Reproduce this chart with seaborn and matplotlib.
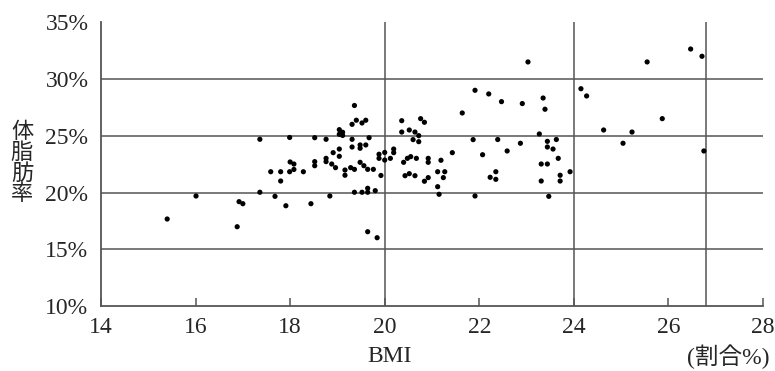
import numpy as np
import pandas as pd
import matplotlib
matplotlib.use('Agg')
import matplotlib.pyplot as plt
import seaborn as sns

# BMI vs body fat ratio
bmi = [15.40, 16.01, 16.88, 16.92, 17.00, 17.36, 17.68, 17.91, 18.44, 18.84,
       19.36, 19.52, 19.64, 19.64, 19.80, 19.64, 19.84, 17.36, 17.99, 17.59,
       17.80, 17.99, 17.80, 18.00, 18.08, 18.08, 18.28, 18.52, 18.76, 18.52,
       18.52, 18.76, 18.76, 18.88, 18.96, 18.91, 19.04, 19.04, 19.04, 19.11,
       19.04, 19.11, 19.16, 19.16, 19.28, 19.36, 19.31, 19.31, 19.36, 19.31,
       19.40, 19.52, 19.60, 19.48, 19.48, 19.60, 19.67, 19.48, 19.56, 19.64,
       19.76, 19.92, 19.88, 19.88, 20.00, 20.00, 20.12, 20.19, 20.19, 20.36,
       20.76, 20.84, 20.36, 20.52, 20.64, 20.72, 20.60, 20.72, 20.40, 20.48,
       20.55, 20.67, 20.92, 20.92, 21.19, 21.43, 20.43, 20.52, 20.64, 20.84,
       20.92, 21.12, 21.27, 21.24, 21.12, 21.15, 21.64, 21.87, 21.91, 21.91,
       22.07, 22.20, 22.47, 22.91, 23.35, 23.39, 23.03, 23.27, 22.39, 22.87,
       23.44, 23.44, 23.63, 23.56, 22.59, 23.67, 23.31, 23.44, 22.35, 22.23,
       22.35, 23.71, 23.71, 23.92, 23.31, 23.47, 24.15, 24.27, 25.55, 26.47,
       26.71, 25.87, 24.63, 25.23, 25.04, 26.75]
body_fat = [17.67, 19.70, 16.99, 19.20, 19.02, 20.03, 19.67, 18.84, 19.02, 19.70,
            20.03, 20.03, 20.38, 20.03, 20.17, 16.55, 16.02, 24.70, 24.86, 21.84,
            21.84, 21.84, 21.02, 22.70, 22.52, 22.04, 21.84, 24.84, 24.70, 22.73,
            22.37, 23.02, 22.73, 22.52, 22.20, 23.52, 23.84, 23.20, 25.55, 25.32,
            25.14, 25.04, 21.99, 21.53, 22.20, 22.05, 24.70, 24.02, 27.68, 26.02,
            26.38, 26.14, 26.38, 24.20, 23.91, 24.20, 24.84, 22.67, 22.37, 22.05,
            22.05, 21.51, 23.38, 23.02, 23.54, 22.87, 23.02, 23.84, 23.52, 26.34,
            26.52, 26.20, 25.34, 25.52, 25.34, 25.02, 24.67, 24.49, 22.67, 23.02,
            23.17, 23.02, 23.02, 22.67, 22.85, 23.52, 21.49, 21.67, 21.49, 21.00,
            21.32, 21.84, 21.84, 21.32, 20.52, 19.85, 27.02, 24.67, 19.70, 29.02,
            23.34, 28.70, 28.02, 27.85, 28.34, 27.35, 31.52, 25.17, 24.68, 24.35,
            24.52, 24.02, 24.68, 23.84, 23.67, 23.02, 22.52, 22.52, 21.84, 21.35,
            21.17, 21.53, 21.02, 21.84, 21.02, 19.67, 29.16, 28.52, 31.52, 32.66,
            32.02, 26.52, 25.52, 25.34, 24.35, 23.67]

x_ticks = [14, 16, 18, 20, 22, 24, 26, 28]
y_ticks = [10, 15, 20, 25, 30, 35]
h_lines = [15, 20, 25, 30]
v_lines = [20, 24, 26.8]

df = pd.DataFrame({'BMI': bmi, 'fat': body_fat})

sns.set_style('white')
plt.rcParams['font.family'] = ['Liberation Serif', 'Noto Sans CJK JP', 'DejaVu Sans']

fig = plt.figure(figsize=(7.75, 3.71), dpi=100)
ax = fig.add_axes([0.1303, 0.1752, 0.8542, 0.7642])

line_col = '#555555'
for h in h_lines:
    ax.axhline(h, color=line_col, lw=1.1, zorder=1)
for v in v_lines:
    ax.axvline(v, color=line_col, lw=1.1, zorder=1)

sns.scatterplot(data=df, x='BMI', y='fat', color='black', s=14,
                edgecolor='none', ax=ax, zorder=3)

ax.set_xlim(14, 28)
ax.set_ylim(10, 35)
ax.set_xticks(x_ticks)
ax.set_yticks(y_ticks)
ax.set_yticklabels([f'{t}%' for t in y_ticks])
ax.tick_params(axis='x', direction='in', length=6, width=1.1, color=line_col,
               labelsize=17, pad=8, bottom=True)
ax.tick_params(axis='y', length=0, labelsize=17, pad=9)
ax.set_xlabel('')
ax.set_ylabel('')

sns.despine(ax=ax, top=True, right=True)
for side in ['left', 'bottom']:
    ax.spines[side].set_color(line_col)
    ax.spines[side].set_linewidth(1.3)

fig.text(390 / 775, 1 - 357 / 371, 'BMI', ha='center', va='center', fontsize=17)
fig.text(728 / 775, 1 - 357 / 371, '(割合%)', ha='center', va='center', fontsize=17)
fig.text(22 / 775, 1 - 164 / 371, '体\n脂\n肪\n率', ha='center', va='center',
         fontsize=16, linespacing=1.0)

fig.savefig('out.png', dpi=100)
